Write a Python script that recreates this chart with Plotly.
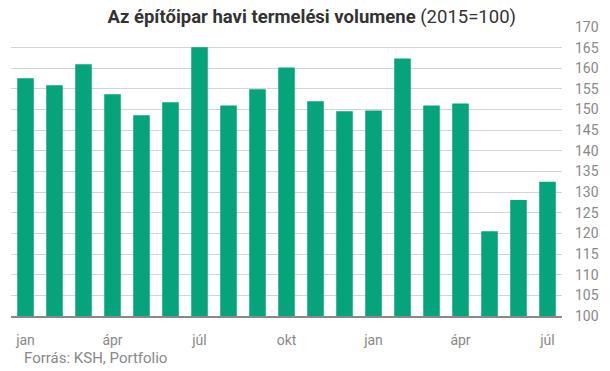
import plotly.graph_objects as go

months = ["jan", "feb", "már", "ápr", "máj", "jún", "júl", "aug", "szept", "okt", "nov", "dec",
          "jan", "feb", "már", "ápr", "máj", "jún", "júl"]
values = [157.6, 155.9, 161.0, 153.7, 148.6, 151.8, 165.1, 151.0, 154.9, 160.2,
          152.0, 149.6, 149.8, 162.4, 151.0, 151.5, 120.5, 128.1, 132.5]
tick_idx = [0, 3, 6, 9, 12, 15, 18]
tick_text = [months[i] for i in tick_idx]
y_ticks = list(range(100, 171, 5))

x = list(range(len(values)))

fig = go.Figure()
fig.add_trace(go.Bar(x=x, y=values, marker=dict(color="#05A47A", line=dict(width=0)),
                     hoverinfo="y"))

fig.update_layout(
    width=610, height=371,
    margin=dict(l=11, r=40, t=27, b=55),
    paper_bgcolor="white", plot_bgcolor="white",
    bargap=0.43,
    showlegend=False,
    font=dict(family="Roboto", size=14, color="#888888"),
    title=dict(
        text="<b>Az építőipar havi termelési volumene</b> (2015=100)",
        x=0.511, xanchor="center", xref="container",
        y=1 - 17 / 371, yanchor="middle", yref="container",
        font=dict(family="Roboto", size=18.5, color="#333333"),
    ),
    xaxis=dict(
        range=[-0.5, len(values) - 0.5],
        tickmode="array", tickvals=tick_idx, ticktext=tick_text,
        showgrid=False, zeroline=False,
        showline=True, linecolor="#888888", linewidth=1.5,
        ticks="", ticklabelstandoff=10,
        tickfont=dict(size=14, color="#888888"),
        fixedrange=True,
    ),
    yaxis=dict(
        range=[100, 170], side="right",
        tickmode="array", tickvals=y_ticks,
        showgrid=True, gridcolor="#d3d3d3", gridwidth=1,
        zeroline=False, showline=False, ticks="",
        ticklabelstandoff=12,
        tickfont=dict(size=14, color="#888888"),
        fixedrange=True,
    ),
    annotations=[dict(
        text="Forrás: KSH, Portfolio", xref="paper", yref="paper",
        x=(21.7 - 11) / 559, y=(316 - 358) / 289, xanchor="left", yanchor="middle",
        showarrow=False, font=dict(family="Roboto", size=15, color="#888888"),
    )],
)

fig.write_html("out.html", config={"displayModeBar": False},
               post_script="document.body.style.margin='0px';document.body.style.overflow='hidden';")
